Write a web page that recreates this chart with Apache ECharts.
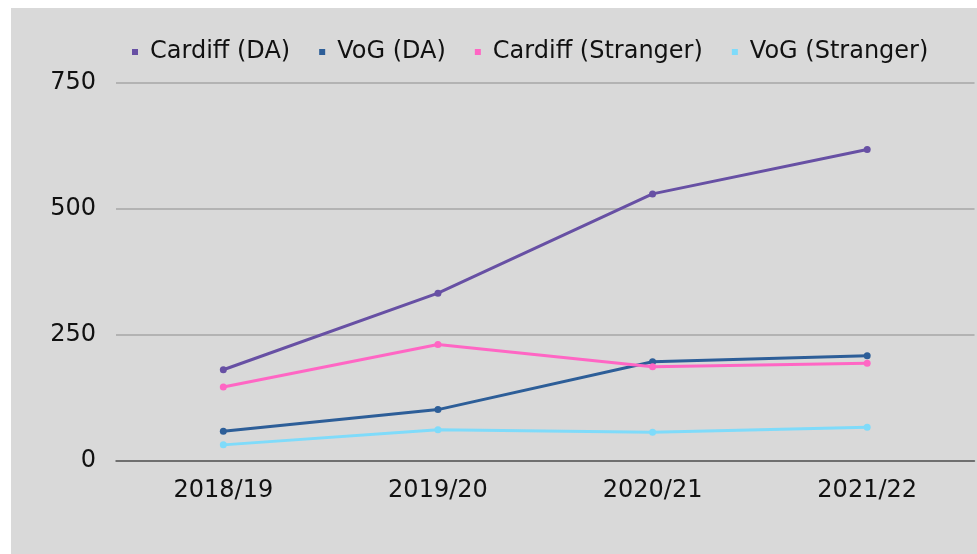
<!DOCTYPE html>
<html><head><meta charset="utf-8">
<script src="https://cdn.jsdelivr.net/npm/echarts@6/dist/echarts.min.js"></script>
<style>html,body{margin:0;padding:0;background:#fff}#c{width:977px;height:554px}</style>
</head><body><div id="c"></div>
<script>
const categories = ['2018/19','2019/20','2020/21','2021/22'];
const seriesNames = ['Cardiff (DA)','VoG (DA)','Cardiff (Stranger)','VoG (Stranger)'];
const cardiffDA = [181, 333, 530, 618];
const vogDA = [59, 102, 197, 209];
const cardiffStranger = [147, 231, 187, 194];
const vogStranger = [32, 62, 57, 67];
const yTicks = [0, 250, 500, 750];
const colors = ['#6750a4','#2d5e98','#ff66c4','#7fdbfa'];
const values = [cardiffDA, vogDA, cardiffStranger, vogStranger];
const font = 'DejaVu Sans';
const chart = echarts.init(document.getElementById('c'));
chart.setOption({
  backgroundColor:'#ffffff',
  animation:false,
  graphic:[{type:'rect', z:-10, shape:{x:11,y:8,width:966,height:546}, style:{fill:'#d9d9d9'}}],
  color: colors,
  legend:{
    left:127, top:35, icon:'rect', itemWidth:6, itemHeight:6, itemGap:29,
    textStyle:{fontFamily:font, fontSize:24, color:'#111', padding:[0,0,0,7]},
    data: seriesNames
  },
  grid:{left:116, right:2.5, top:83, bottom:93, containLabel:false},
  xAxis:{type:'category', data:categories, boundaryGap:true,
    axisLine:{lineStyle:{color:'#595959', width:1.5}}, axisTick:{show:false},
    axisLabel:{fontFamily:font, fontSize:24, color:'#111', margin:18}},
  yAxis:{type:'value', min:yTicks[0], max:yTicks[yTicks.length-1], interval:250,
    axisLine:{show:false}, axisTick:{show:false},
    splitLine:{lineStyle:{color:'#a6a6a6', width:1.5}},
    axisLabel:{fontFamily:font, fontSize:24, color:'#111', margin:20}},
  series: seriesNames.map((n,i)=>({name:n, type:'line', data:values[i], symbol:'circle', symbolSize:7,
    lineStyle:{width:3, color:colors[i]}, itemStyle:{color:colors[i]}}))
});
</script></body></html>
